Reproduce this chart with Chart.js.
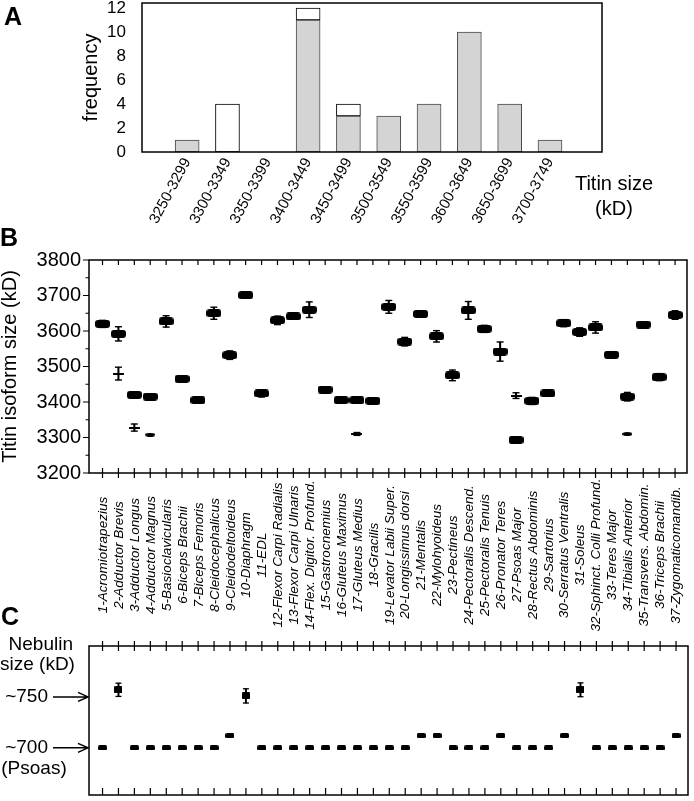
<!DOCTYPE html>
<html>
<head>
<meta charset="utf-8">
<script src="https://cdn.jsdelivr.net/npm/chart.js@4.4.1/dist/chart.umd.min.js"></script>
<style>
  html, body { margin: 0; padding: 0; background: #fff; }
  body { width: 694px; height: 801px; position: relative; overflow: hidden; font-family: "Liberation Sans", Arial, sans-serif; color: #000; }
  canvas { position: absolute; left: 0; }
  .lbl { position: absolute; line-height: 1; white-space: nowrap; }
  .panel { font-weight: bold; font-size: 25px; }
</style>
</head>
<body>
<canvas id="chartA" width="694" height="230" style="top:0"></canvas>
<canvas id="chartB" width="694" height="410" style="top:230px"></canvas>
<canvas id="chartC" width="694" height="161" style="top:640px"></canvas>

<div class="lbl panel" style="left:4px;top:4px">A</div>
<div class="lbl panel" style="left:0;top:225px">B</div>
<div class="lbl panel" style="left:1px;top:604px">C</div>
<div class="lbl" style="left:569px;top:171px;width:90px;text-align:center;font-size:20px;line-height:25px">Titin size<br>(kD)</div>
<div class="lbl" style="left:0;top:634px;width:73px;text-align:right;font-size:19px;line-height:20px">Nebulin<br>size (kD)</div>
<div class="lbl" style="left:0;top:758px;width:68px;text-align:center;font-size:19px">(Psoas)</div>

<script>
(function () {
  'use strict';

  // --- A: histogram of titin sizes
  var binLabels = ['3250-3299', '3300-3349', '3350-3399', '3400-3449', '3450-3499',
                   '3500-3549', '3550-3599', '3600-3649', '3650-3699', '3700-3749'];
  var freqShaded = [1, null, null, 11, 3, 3, 4, 10, 4, 1];
  var freqOpen = [null, 4, null, 1, 1, null, null, null, null, null];
  var freqTicks = [0, 2, 4, 6, 8, 10, 12];

  // --- B: titin isoform size per muscle
  var muscles = ['1-Acromiotrapezius', '2-Adductor Brevis', '3-Adductor Longus', '4-Adductor Magnus',
    '5-Basioclavicularis', '6-Biceps Brachii', '7-Biceps Femoris', '8-Cleidocephalicus',
    '9-Cleidodeltoideus', '10-Diaphragm', '11-EDL', '12-Flexor Carpi Radialis',
    '13-Flexor Carpi Ulnaris', '14-Flex. Digitor. Profund.', '15-Gastrocnemius', '16-Gluteus Maximus',
    '17-Gluteus Medius', '18-Gracilis', '19-Levator Labii Super.', '20-Longissimus dorsi',
    '21-Mentalis', '22-Mylohyoideus', '23-Pectineus', '24-Pectoralis Descend.',
    '25-Pectoralis Tenuis', '26-Pronator Teres', '27-Psoas Major', '28-Rectus Abdominis',
    '29-Sartorius', '30-Serratus Ventralis', '31-Soleus', '32-Sphinct. Colli Profund.',
    '33-Teres Major', '34-Tibialis Anterior', '35-Transvers. Abdomin.', '36-Triceps Brachii',
    '37-Zygomaticomandib.'];
  var titinMain = [3620, 3592, 3420, 3415, 3627, 3465, 3405, 3650, 3532, 3701,
                   3424, 3630, 3641, 3660, 3435, 3405, 3405, 3403, 3668, 3570,
                   3648, 3585, 3475, 3658, 3606, 3542, 3293, 3403, 3424, 3622,
                   3597, 3610, 3533, 3415, 3618, 3470, 3645];
  var titinMainErr = [10, 20, 3, 5, 16, 5, 4, 17, 12, 4,
                      10, 12, 5, 22, 3, 5, 6, 5, 18, 12,
                      4, 16, 15, 25, 10, 27, 3, 10, 3, 10,
                      12, 16, 8, 12, 4, 10, 12];
  var titinSecondIdx = [2, 3, 4, 17, 27, 34];
  var titinSecond = [3480, 3328, 3308, 3310, 3418, 3310];
  var titinSecondErr = [18, 10, 0, 4, 8, 0];
  var titinSecondShape = ['cross', 'cross', 'dot', 'cross', 'cross', 'dot'];
  var titinTicks = [3200, 3300, 3400, 3500, 3600, 3700, 3800];

  // --- C: nebulin size per muscle
  var nebulinSize = [700, 757, 700, 700, 700, 700, 700, 700, 712, 751,
                     700, 700, 700, 700, 700, 700, 700, 700, 700, 700,
                     712, 712, 700, 700, 700, 712, 700, 700, 700, 712,
                     757, 700, 700, 700, 700, 700, 712];
  var nebulinErr = [0, 6.5, 0, 0, 0, 0, 0, 0, 0, 7,
                    0, 0, 0, 0, 0, 0, 0, 0, 0, 0,
                    0, 0, 0, 0, 0, 0, 0, 0, 0, 0,
                    6.8, 0, 0, 0, 0, 0, 0];
  var nebulinMarks = [700, 750];

  var FONT = '"Liberation Sans", Arial, sans-serif';
  Chart.defaults.font.family = FONT;
  Chart.defaults.color = '#000';
  Chart.defaults.plugins.legend.display = false;
  Chart.defaults.plugins.tooltip.enabled = false;

  function idx(n) { var r = []; for (var i = 1; i <= n; i++) r.push(i); return r; }
  function fixedTicks(list) {
    return function (s) { s.ticks = list.map(function (t) { return { value: t }; }); };
  }
  function fitWidth(w) {
    return function (s) { s.width = w; s.paddingTop = 0; s.paddingBottom = 0; };
  }

  function markImg(w, h, r, ellipse) {
    var c = document.createElement('canvas');
    c.width = w; c.height = h;
    var g = c.getContext('2d');
    g.fillStyle = '#000';
    g.beginPath();
    if (ellipse) {
      g.ellipse(w / 2, h / 2, w / 2, h / 2, 0, 0, Math.PI * 2);
    } else {
      g.moveTo(r, 0); g.lineTo(w - r, 0); g.arcTo(w, 0, w, r, r);
      g.lineTo(w, h - r); g.arcTo(w, h, w - r, h, r);
      g.lineTo(r, h); g.arcTo(0, h, 0, h - r, r);
      g.lineTo(0, r); g.arcTo(0, 0, r, 0, r);
    }
    g.fill();
    return c;
  }
  var boxMark = markImg(15, 8, 3);
  var crossMark = markImg(11, 2, 0.5);
  var dotMark = markImg(10, 4, 0, true);
  var nebSmall = markImg(9, 5, 1.5);
  var nebSquare = markImg(8, 7, 1);

  function makeFrame(opts) {
    return {
      id: 'frame',
      afterDatasetsDraw: function (chart) {
        var ctx = chart.ctx, a = chart.chartArea;
        var xs = chart.scales.x, ys = chart.scales.y;
        ctx.save();
        ctx.strokeStyle = '#000';
        ctx.lineWidth = 1.5;
        ctx.strokeRect(a.left, a.top, a.right - a.left, a.bottom - a.top);
        ctx.lineWidth = 1.2;
        ctx.beginPath();
        (opts.xTicks || []).forEach(function (v) {
          var px = xs.getPixelForValue(v);
          if (opts.top) { ctx.moveTo(px, a.top - opts.top[0]); ctx.lineTo(px, a.top + opts.top[1]); }
          if (opts.bottom) { ctx.moveTo(px, a.bottom - opts.bottom[0]); ctx.lineTo(px, a.bottom + opts.bottom[1]); }
        });
        (opts.yTicks || []).forEach(function (t) {
          var py = ys.getPixelForValue(t[0]);
          ctx.moveTo(a.left - t[1], py); ctx.lineTo(a.left, py);
        });
        ctx.stroke();
        if (opts.extra) opts.extra(chart, ctx);
        ctx.restore();
      }
    };
  }

  function errBars(xsList, ys, errs) {
    var bars = [], caps = [];
    for (var i = 0; i < xsList.length; i++) {
      if (!errs[i]) continue;
      bars.push({ x: xsList[i], y: [ys[i] - errs[i], ys[i] + errs[i]] });
      caps.push({ x: xsList[i], y: ys[i] - errs[i] });
      caps.push({ x: xsList[i], y: ys[i] + errs[i] });
    }
    return { bars: bars, caps: caps };
  }

  // ---------------- Panel A ----------------
  new Chart(document.getElementById('chartA'), {
    type: 'bar',
    data: {
      datasets: [
        {
          data: freqShaded.map(function (v, i) { return { x: i + 1, y: v }; }),
          backgroundColor: '#d4d4d4', borderColor: '#4a4a4a', borderWidth: 1,
          borderSkipped: false, barThickness: 24, stack: 's'
        },
        {
          data: freqOpen.map(function (v, i) { return { x: i + 1, y: v }; }),
          backgroundColor: '#ffffff', borderColor: '#000', borderWidth: 1,
          borderSkipped: false, barThickness: 24, stack: 's'
        }
      ]
    },
    options: {
      responsive: false, animation: false, devicePixelRatio: 1,
      layout: { padding: { top: 3, right: 92, left: 0, bottom: 0 } },
      scales: {
        x: {
          type: 'linear', offset: false, min: -0.12, max: 11.29,
          grid: { display: false, drawTicks: false }, border: { display: false },
          ticks: {
            stepSize: 1, includeBounds: false, autoSkip: false,
            minRotation: 62, maxRotation: 62, padding: 3,
            font: { size: 15 },
            callback: function (v) { return binLabels[v - 1] || ''; }
          },
          afterFit: function (s) { s.height = 78; }
        },
        y: {
          stacked: true, min: 0, max: 12.42,
          grid: { display: false, drawTicks: false }, border: { display: false },
          afterBuildTicks: fixedTicks(freqTicks),
          ticks: { autoSkip: false, padding: 16, font: { size: 17 } },
          title: { display: true, text: 'frequency', font: { size: 20 }, padding: { top: 79, bottom: 0 } },
          afterFit: fitWidth(142)
        }
      }
    },
    plugins: [makeFrame({})]
  });

  // ---------------- Panel B ----------------
  var xB = idx(muscles.length);
  var mainErr = errBars(xB, titinMain, titinMainErr);
  var secErr = errBars(titinSecondIdx, titinSecond, titinSecondErr);
  var yTicksB = [];
  for (var v = 3200; v <= 3800; v += 50) yTicksB.push([v, v % 100 === 0 ? 6 : 3.5]);

  new Chart(document.getElementById('chartB'), {
    type: 'scatter',
    data: {
      datasets: [
        {
          type: 'scatter', order: 0,
          data: xB.map(function (x, i) { return { x: x, y: titinMain[i] }; }),
          pointStyle: boxMark, pointRadius: 6
        },
        {
          type: 'scatter', order: 0,
          data: titinSecondIdx.map(function (x, i) { return { x: x, y: titinSecond[i] }; }),
          pointStyle: titinSecondShape.map(function (s) { return s === 'dot' ? dotMark : crossMark; }),
          pointRadius: 5
        },
        {
          type: 'scatter', order: 1,
          data: mainErr.caps.concat(secErr.caps),
          pointStyle: 'line', pointRadius: 3.5, borderWidth: 1.4, borderColor: '#000'
        },
        {
          type: 'bar', order: 2,
          data: mainErr.bars.concat(secErr.bars),
          backgroundColor: '#000', borderWidth: 0, barThickness: 1.4, grouped: false
        }
      ]
    },
    options: {
      responsive: false, animation: false, devicePixelRatio: 1,
      layout: { padding: { top: 30, right: 1, left: 0, bottom: 167 } },
      scales: {
        x: { type: 'linear', offset: false, min: 0.15, max: 37.75, display: false },
        y: {
          type: 'linear', min: 3200, max: 3800,
          grid: { display: false, drawTicks: false }, border: { display: false },
          afterBuildTicks: fixedTicks(titinTicks),
          ticks: { autoSkip: false, padding: 8, font: { size: 20 }, callback: function (v) { return String(v); } },
          title: { display: true, text: 'Titin isoform size (kD)', font: { size: 20 }, padding: { top: -2, bottom: 0 } },
          afterFit: fitWidth(89)
        }
      }
    },
    plugins: [makeFrame({
      xTicks: xB, top: [0, 5], bottom: [5, 5], yTicks: yTicksB,
      extra: function (chart, ctx) {
        var xs = chart.scales.x;
        ctx.fillStyle = '#000';
        ctx.font = 'italic 13.5px ' + FONT;
        ctx.textAlign = 'center';
        ctx.textBaseline = 'middle';
        muscles.forEach(function (name, i) {
          ctx.save();
          ctx.translate(xs.getPixelForValue(i + 1) + 1, chart.chartArea.bottom + 82);
          ctx.rotate(-Math.PI / 2);
          ctx.fillText(name, 0, 0);
          ctx.restore();
        });
      }
    })]
  });

  // ---------------- Panel C ----------------
  var nebErr = errBars(xB, nebulinSize, nebulinErr);
  new Chart(document.getElementById('chartC'), {
    type: 'scatter',
    data: {
      datasets: [
        {
          type: 'scatter', order: 0,
          data: xB.map(function (x, i) { return { x: x, y: nebulinSize[i] }; }),
          pointStyle: nebulinErr.map(function (e) { return e ? nebSquare : nebSmall; }),
          pointRadius: 5
        },
        {
          type: 'scatter', order: 1,
          data: nebErr.caps,
          pointStyle: 'line', pointRadius: 3, borderWidth: 1.3, borderColor: '#000'
        },
        {
          type: 'bar', order: 2,
          data: nebErr.bars,
          backgroundColor: '#000', borderWidth: 0, barThickness: 1.3, grouped: false
        }
      ]
    },
    options: {
      responsive: false, animation: false, devicePixelRatio: 1,
      layout: { padding: { top: 2, right: 1, left: 0, bottom: 1 } },
      scales: {
        x: { type: 'linear', offset: false, min: 0.15, max: 37.75, display: false },
        y: {
          type: 'linear', min: 653.7, max: 800,
          grid: { display: false, drawTicks: false }, border: { display: false },
          afterBuildTicks: fixedTicks(nebulinMarks),
          ticks: { autoSkip: false, padding: 41, font: { size: 19 }, callback: function (v) { return '~' + v; } },
          afterFit: fitWidth(89)
        }
      }
    },
    plugins: [makeFrame({
      xTicks: xB, top: [5, 5], bottom: [7, 0],
      extra: function (chart, ctx) {
        var ys = chart.scales.y, a = chart.chartArea;
        ctx.lineWidth = 1.5;
        ctx.beginPath();
        nebulinMarks.forEach(function (m) {
          var py = ys.getPixelForValue(m);
          ctx.moveTo(a.left - 36, py); ctx.lineTo(a.left - 1, py);
          ctx.moveTo(a.left - 11, py - 4.5); ctx.lineTo(a.left - 1, py); ctx.lineTo(a.left - 11, py + 4.5);
        });
        ctx.stroke();
      }
    })]
  });
})();
</script>
</body>
</html>
